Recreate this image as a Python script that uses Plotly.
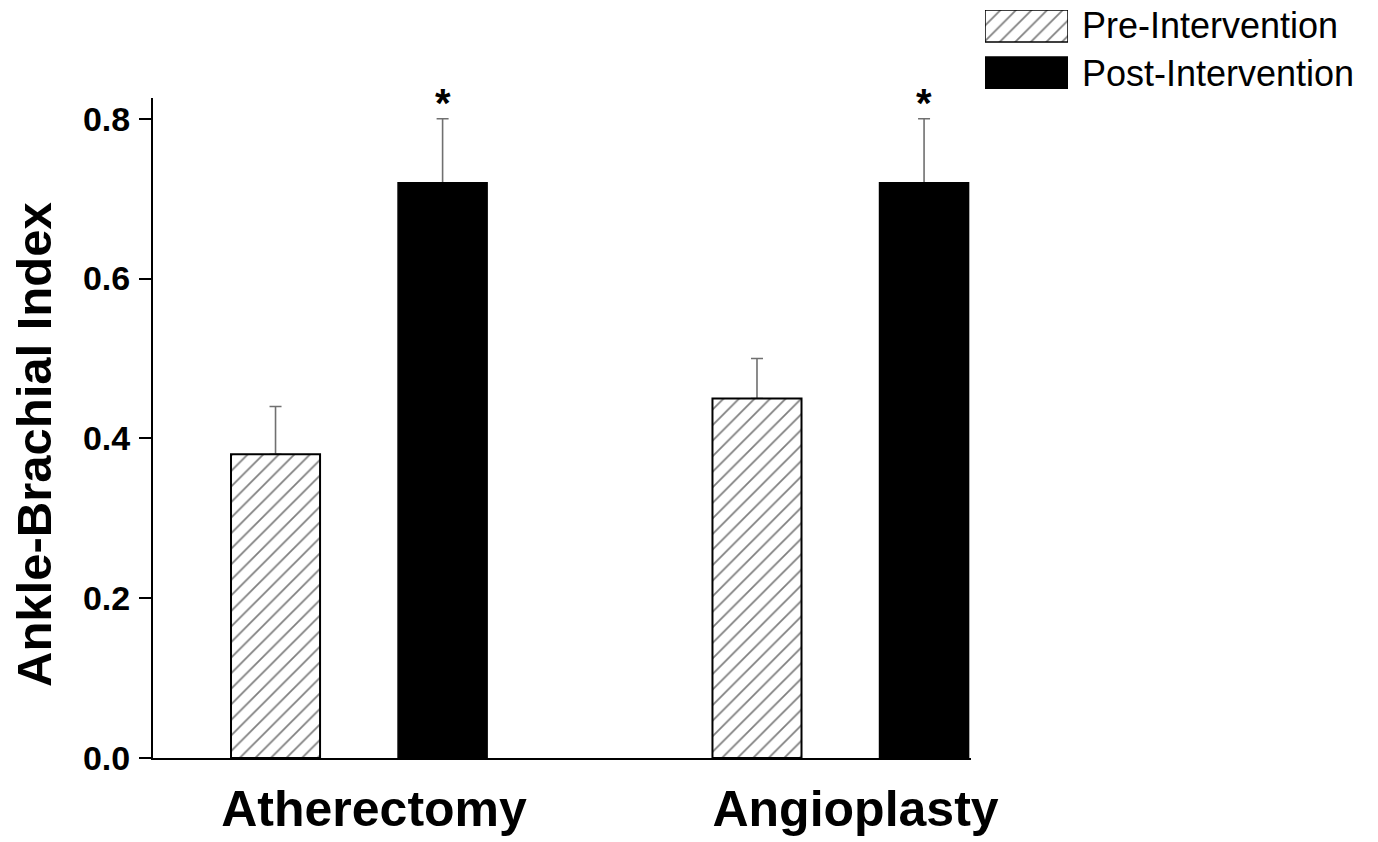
import plotly.graph_objects as go

# Ankle-brachial index before and after intervention
procedures = ["Atherectomy", "Angioplasty"]
pre_abi = [0.38, 0.45]
pre_err = [0.06, 0.05]
post_abi = [0.72, 0.72]
post_err = [0.08, 0.08]
significance = ["*", "*"]
series_names = ["Pre-Intervention", "Post-Intervention"]
y_ticks = [0.0, 0.2, 0.4, 0.6, 0.8]

W, H = 1378, 842
FONT = "Liberation Sans, Arial, sans-serif"
BAR_GAP = 0.306
GROUP_GAP = 0.467
HATCH = dict(shape="/", size=11, solidity=0.16, fgcolor="black", bgcolor="white")
ERR_STYLE = dict(color="#707070", thickness=1.6, width=6)

fig = go.Figure()

# Error bars sit on transparent carrier bars so the real bars cover their lower caps
fig.add_trace(go.Bar(
    x=procedures, y=pre_abi, offsetgroup="pre", showlegend=False, hoverinfo="skip",
    marker=dict(color="rgba(0,0,0,0)", line=dict(width=0)),
    error_y=dict(type="data", symmetric=False, array=pre_err,
                 arrayminus=[0] * len(pre_err), **ERR_STYLE),
))
fig.add_trace(go.Bar(
    x=procedures, y=post_abi, offsetgroup="post", showlegend=False, hoverinfo="skip",
    marker=dict(color="rgba(0,0,0,0)", line=dict(width=0)),
    error_y=dict(type="data", symmetric=False, array=post_err,
                 arrayminus=[0] * len(post_err), **ERR_STYLE),
))

fig.add_trace(go.Bar(
    x=procedures, y=pre_abi, name=series_names[0], offsetgroup="pre", showlegend=False,
    marker=dict(color="white", pattern=HATCH, line=dict(color="black", width=2)),
))
fig.add_trace(go.Bar(
    x=procedures, y=post_abi, name=series_names[1], offsetgroup="post", showlegend=False,
    marker=dict(color="black", line=dict(color="black", width=1.5)),
))

# Legend swatches drawn on a small inset axis
fig.add_trace(go.Bar(
    x=[1], y=[1], orientation="h", width=0.68, xaxis="x2", yaxis="y2",
    showlegend=False, hoverinfo="skip",
    marker=dict(color="white", pattern=HATCH, line=dict(color="black", width=1.5)),
))
fig.add_trace(go.Bar(
    x=[1], y=[0], orientation="h", width=0.68, xaxis="x2", yaxis="y2",
    showlegend=False, hoverinfo="skip",
    marker=dict(color="black", line=dict(color="black", width=1.5)),
))

annotations = []
# Significance markers above the post-intervention error bars
slot_offset = (1 - BAR_GAP) / 4
for i, (val, err, mark) in enumerate(zip(post_abi, post_err, significance)):
    annotations.append(dict(
        x=i + slot_offset, y=val + err, xref="x", yref="y", text=mark,
        showarrow=False, yanchor="bottom", yshift=-8,
        font=dict(family=FONT, size=40, color="black", weight="bold"),
    ))

for yv, name in zip([1, 0], series_names):
    annotations.append(dict(
        x=1080 / W, y=yv, xref="paper", yref="y2", xanchor="left", yanchor="middle",
        text=name, showarrow=False,
        font=dict(family=FONT, size=36, color="black"),
    ))

annotations.append(dict(
    x=34 / W, y=1 - 445 / H, xref="paper", yref="paper", text="Ankle-Brachial Index",
    textangle=-90, showarrow=False, xanchor="center", yanchor="middle",
    font=dict(family=FONT, size=49, color="black", weight="bold"),
))

fig.update_layout(
    width=W, height=H,
    margin=dict(l=0, r=0, t=0, b=0),
    paper_bgcolor="white", plot_bgcolor="white",
    barmode="group", bargap=BAR_GAP, bargroupgap=GROUP_GAP,
    showlegend=False,
    font=dict(family=FONT, color="black"),
    xaxis=dict(
        domain=[153 / W, 971 / W],
        type="category", range=[-0.428, 1.271], automargin=False,
        showline=True, linecolor="black", linewidth=2,
        ticks="", showgrid=False, zeroline=False,
        tickfont=dict(family=FONT, size=50, color="black", weight="bold"),
        ticklabelshift=15, ticklabelstandoff=6,
    ),
    yaxis=dict(
        domain=[1 - 758 / H, 1 - 98 / H],
        range=[0, 0.826], tickvals=y_ticks, tickformat=".1f", automargin=False,
        showline=True, linecolor="black", linewidth=2,
        ticks="outside", ticklen=12, tickwidth=2, tickcolor="black",
        showgrid=False, zeroline=False, ticklabelstandoff=2,
        tickfont=dict(family=FONT, size=34, color="black", weight="bold"),
    ),
    xaxis2=dict(domain=[985 / W, 1068 / W], range=[0, 1], visible=False, fixedrange=True),
    yaxis2=dict(domain=[1 - 89 / H, 1 - 10 / H], range=[-0.34, 1.34], visible=False, fixedrange=True),
    annotations=annotations,
)

fig.write_html("out.html")
